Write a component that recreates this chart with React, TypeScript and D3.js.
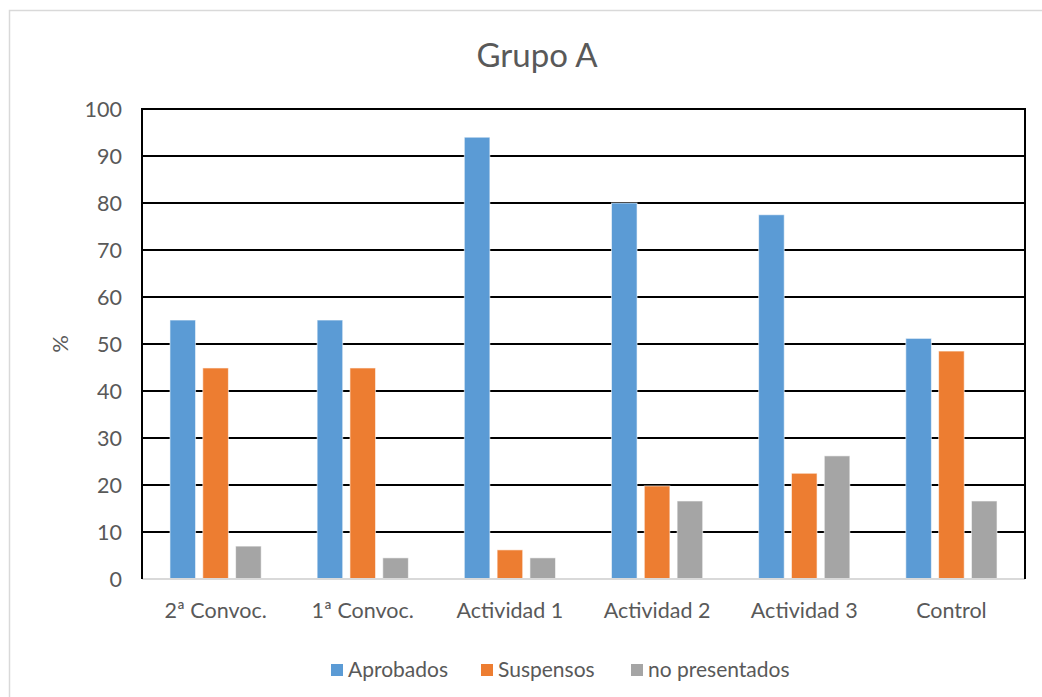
import * as React from "react";
import { scaleBand, scaleLinear, range } from "d3";

const categories = ["2ª Convoc.", "1ª Convoc.", "Actividad 1", "Actividad 2", "Actividad 3", "Control"];
const seriesNames = ["Aprobados", "Suspensos", "no presentados"];
const aprobados = [55.1, 55.1, 94.0, 80.0, 77.5, 51.2];
const suspensos = [44.9, 44.9, 6.2, 19.8, 22.5, 48.5];
const noPresentados = [7.0, 4.5, 4.5, 16.6, 26.2, 16.6];
const yTicks = [0, 10, 20, 30, 40, 50, 60, 70, 80, 90, 100];
const colors = ["#5B9BD5", "#ED7D31", "#A5A5A5"];

const W = 1042;
const H = 697;
const FONT = "Lato, 'Open Sans', sans-serif";
const TEXT = "#595959";

export default function App() {
  const series = [aprobados, suspensos, noPresentados];
  const left = 142;
  const right = 1025;
  const top = 109;
  const bottom = 579;

  const x0 = scaleBand().domain(categories).range([left, right]);
  const groupW = x0.bandwidth() * 0.62;
  const x1 = scaleBand()
    .domain(range(series.length).map((d) => `${d}`))
    .range([0, groupW])
    .paddingInner(0.22);
  const y = scaleLinear().domain([0, 100]).range([bottom, top]);

  const legendX = [331, 481, 631];

  return (
    <svg
      width={W}
      height={H}
      style={{ position: "absolute", left: 0, top: 0, fontFamily: FONT }}
    >
      <rect x={0} y={0} width={W} height={H} fill="white" />
      <rect x={9.5} y={10.5} width={W + 20} height={H + 20} fill="white" stroke="#d9d9d9" strokeWidth={1.5} />

      <text x={537} y={67} textAnchor="middle" fontSize={33} fill={TEXT}>
        Grupo A
      </text>

      {yTicks.slice(1).map((t) => (
        <line key={t} x1={left} x2={right} y1={y(t)} y2={y(t)} stroke="#000" strokeWidth={2} />
      ))}

      {categories.map((c, i) => {
        const gx = (x0(c) as number) + (x0.bandwidth() - groupW) / 2;
        return (
          <g key={c} transform={`translate(${gx},0)`}>
            {series.map((s, j) => (
              <rect
                key={j}
                x={x1(`${j}`)}
                y={y(s[i])}
                width={x1.bandwidth()}
                height={y(0) - y(s[i])}
                fill={colors[j]}
                stroke="rgba(255,255,255,0.6)"
                strokeWidth={1}
              />
            ))}
          </g>
        );
      })}

      <line x1={left} x2={right} y1={y(0)} y2={y(0)} stroke="#d9d9d9" strokeWidth={2} />
      <line x1={left} x2={left} y1={top} y2={bottom} stroke="#000" strokeWidth={2} />
      <line x1={right} x2={right} y1={top} y2={bottom} stroke="#000" strokeWidth={2} />
      <line x1={left - 1} x2={right + 1} y1={top} y2={top} stroke="#000" strokeWidth={2} />

      {yTicks.map((t) => (
        <text key={t} x={122} y={y(t)} dy="0.35em" textAnchor="end" fontSize={21.5} fill={TEXT}>
          {t}
        </text>
      ))}

      <text
        transform={`translate(68,${(top + bottom) / 2}) rotate(-90)`}
        textAnchor="middle"
        fontSize={22}
        fill={TEXT}
      >
        %
      </text>

      {categories.map((c) => (
        <text
          key={c}
          x={(x0(c) as number) + x0.bandwidth() / 2}
          y={618}
          textAnchor="middle"
          fontSize={21.5}
          fill={TEXT}
        >
          {c}
        </text>
      ))}

      {seriesNames.map((n, j) => (
        <g key={n} transform={`translate(${legendX[j]},664)`}>
          <rect x={0} y={0} width={12} height={12} fill={colors[j]} />
          <text x={17} y={6} dy="0.35em" fontSize={21} fill={TEXT}>
            {n}
          </text>
        </g>
      ))}
    </svg>
  );
}
